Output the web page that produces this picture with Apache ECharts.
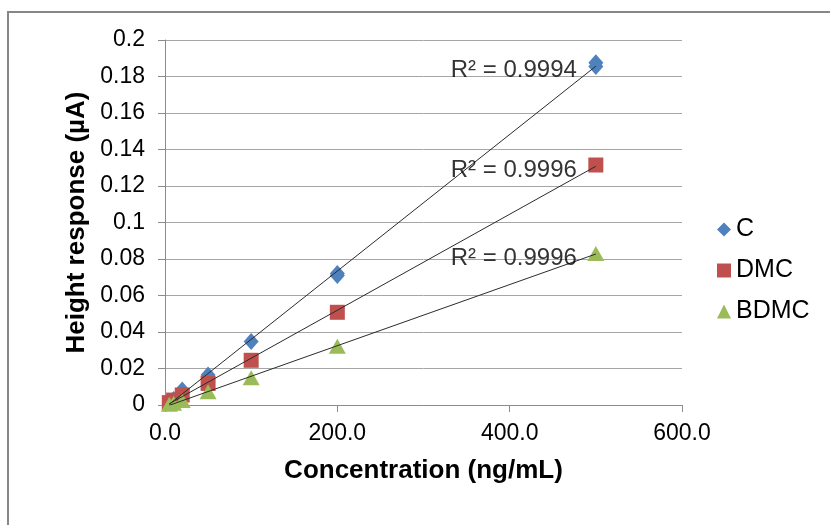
<!DOCTYPE html>
<html>
<head>
<meta charset="utf-8">
<script src="https://cdn.jsdelivr.net/npm/echarts@6/dist/echarts.min.js"></script>
<style>
html,body{margin:0;padding:0;background:#fff;}
#chart{width:830px;height:525px;}
</style>
</head>
<body>
<div id="chart"></div>
<script>
// ---- data ----
const concentrations = [5, 10, 20, 50, 100, 200, 500];
const cValues    = [0.0015, 0.003, 0.0082, 0.0165, 0.0348, 0.0720, 0.1875];
const cRepConc   = [200, 500];
const cRepValues = [0.0710, 0.1855];
const dmcValues  = [0.0013, 0.0027, 0.0055, 0.0118, 0.0245, 0.0508, 0.1315];
const bdmcValues = [0.0004, 0.0010, 0.0024, 0.0072, 0.0150, 0.0322, 0.0830];
const seriesNames = ['C', 'DMC', 'BDMC'];
const rSquaredLabels = ['R² = 0.9994', 'R² = 0.9996', 'R² = 0.9996'];
const xTickLabels = ['0.0', '200.0', '400.0', '600.0'];

const colors = ['#4F81BD', '#C0504D', '#9BBB59'];
const symbols = ['diamond', 'rect', 'triangle'];
const symbolSizes = [[15, 17], [15, 15], [17, 15]];
const FONT = 'Liberation Sans, Arial, sans-serif';

function pairs(xs, ys) { return xs.map((x, i) => [x, ys[i]]); }
function fit(pts) {
  const n = pts.length;
  let sx = 0, sy = 0, sxx = 0, sxy = 0;
  pts.forEach(p => { sx += p[0]; sy += p[1]; sxx += p[0]*p[0]; sxy += p[0]*p[1]; });
  const b = (n*sxy - sx*sy) / (n*sxx - sx*sx);
  const a = (sy - b*sx) / n;
  return { a, b };
}

const cPts = pairs(concentrations, cValues).concat(pairs(cRepConc, cRepValues));
const allPts = [cPts, pairs(concentrations, dmcValues), pairs(concentrations, bdmcValues)];

const series = [];
allPts.forEach((pts, i) => {
  series.push({
    name: seriesNames[i], type: 'scatter', data: pts,
    symbol: symbols[i], symbolSize: symbolSizes[i],
    itemStyle: { color: colors[i], opacity: 1 }, z: 3
  });
});
const labelPts = [];
allPts.forEach((pts, i) => {
  const f = fit(pts);
  const x0 = Math.min(...concentrations), x1 = Math.max(...concentrations);
  series.push({
    name: 'trend' + i, type: 'line', silent: true, symbol: 'none', z: 4,
    lineStyle: { color: '#2b2b2b', width: 1 },
    data: [[x0, f.a + f.b*x0], [x1, f.a + f.b*x1]]
  });
  labelPts.push({ value: [x1, f.a + f.b*x1], name: rSquaredLabels[i] });
});
series.push({
  name: 'r2', type: 'scatter', silent: true, z: 5,
  symbol: 'circle', symbolSize: 2,
  itemStyle: { color: 'rgba(0,0,0,0)' },
  label: {
    show: true, position: 'left', distance: 18, offset: [0, 4],
    formatter: p => p.name, color: '#000',
    fontFamily: FONT, fontSize: 24
  },
  data: labelPts
});

const chart = echarts.init(document.getElementById('chart'), null, { renderer: 'canvas' });
chart.setOption({
  animation: false,
  backgroundColor: '#fff',
  graphic: [{
    type: 'rect', shape: { x: 8, y: 12, width: 840, height: 540 },
    style: { fill: 'none', stroke: '#878787', lineWidth: 2 }, silent: true
  }],
  grid: { left: 165, right: 148, top: 40, bottom: 120 },
  legend: {
    data: seriesNames.map((n, i) => ({ name: n, icon: symbols[i] })),
    orient: 'vertical', left: 712, top: 212, itemGap: 16,
    itemWidth: 14, itemHeight: 14,
    textStyle: { fontFamily: FONT, fontSize: 25, color: '#000' }
  },
  xAxis: {
    type: 'value', min: 0, max: 600, interval: 200,
    name: 'Concentration (ng/mL)', nameLocation: 'middle', nameGap: 53,
    nameTextStyle: { fontFamily: FONT, fontSize: 26, fontWeight: 'bold', color: '#000' },
    axisLine: { show: true, lineStyle: { color: '#8c8c8c', width: 1 } },
    axisTick: { show: true, length: 7, lineStyle: { color: '#8c8c8c' } },
    axisLabel: { fontFamily: FONT, fontSize: 23, color: '#000', margin: 17,
      formatter: v => xTickLabels[Math.round(v / 200)] },
    splitLine: { show: false }
  },
  yAxis: {
    type: 'value', min: 0, max: 0.2, interval: 0.02,
    name: 'Height response (µA)', nameLocation: 'middle', nameGap: 74, nameRotate: 90,
    nameTextStyle: { fontFamily: FONT, fontSize: 26, fontWeight: 'bold', color: '#000' },
    axisLine: { show: true, lineStyle: { color: '#8c8c8c', width: 1 } },
    axisTick: { show: true, length: 7, lineStyle: { color: '#8c8c8c' } },
    axisLabel: { fontFamily: FONT, fontSize: 23, color: '#000', margin: 20,
      formatter: v => String(parseFloat(v.toFixed(2))) },
    splitLine: { show: true, lineStyle: { color: '#a6a6a6', width: 1 } }
  },
  series: series
});
</script>
</body>
</html>
